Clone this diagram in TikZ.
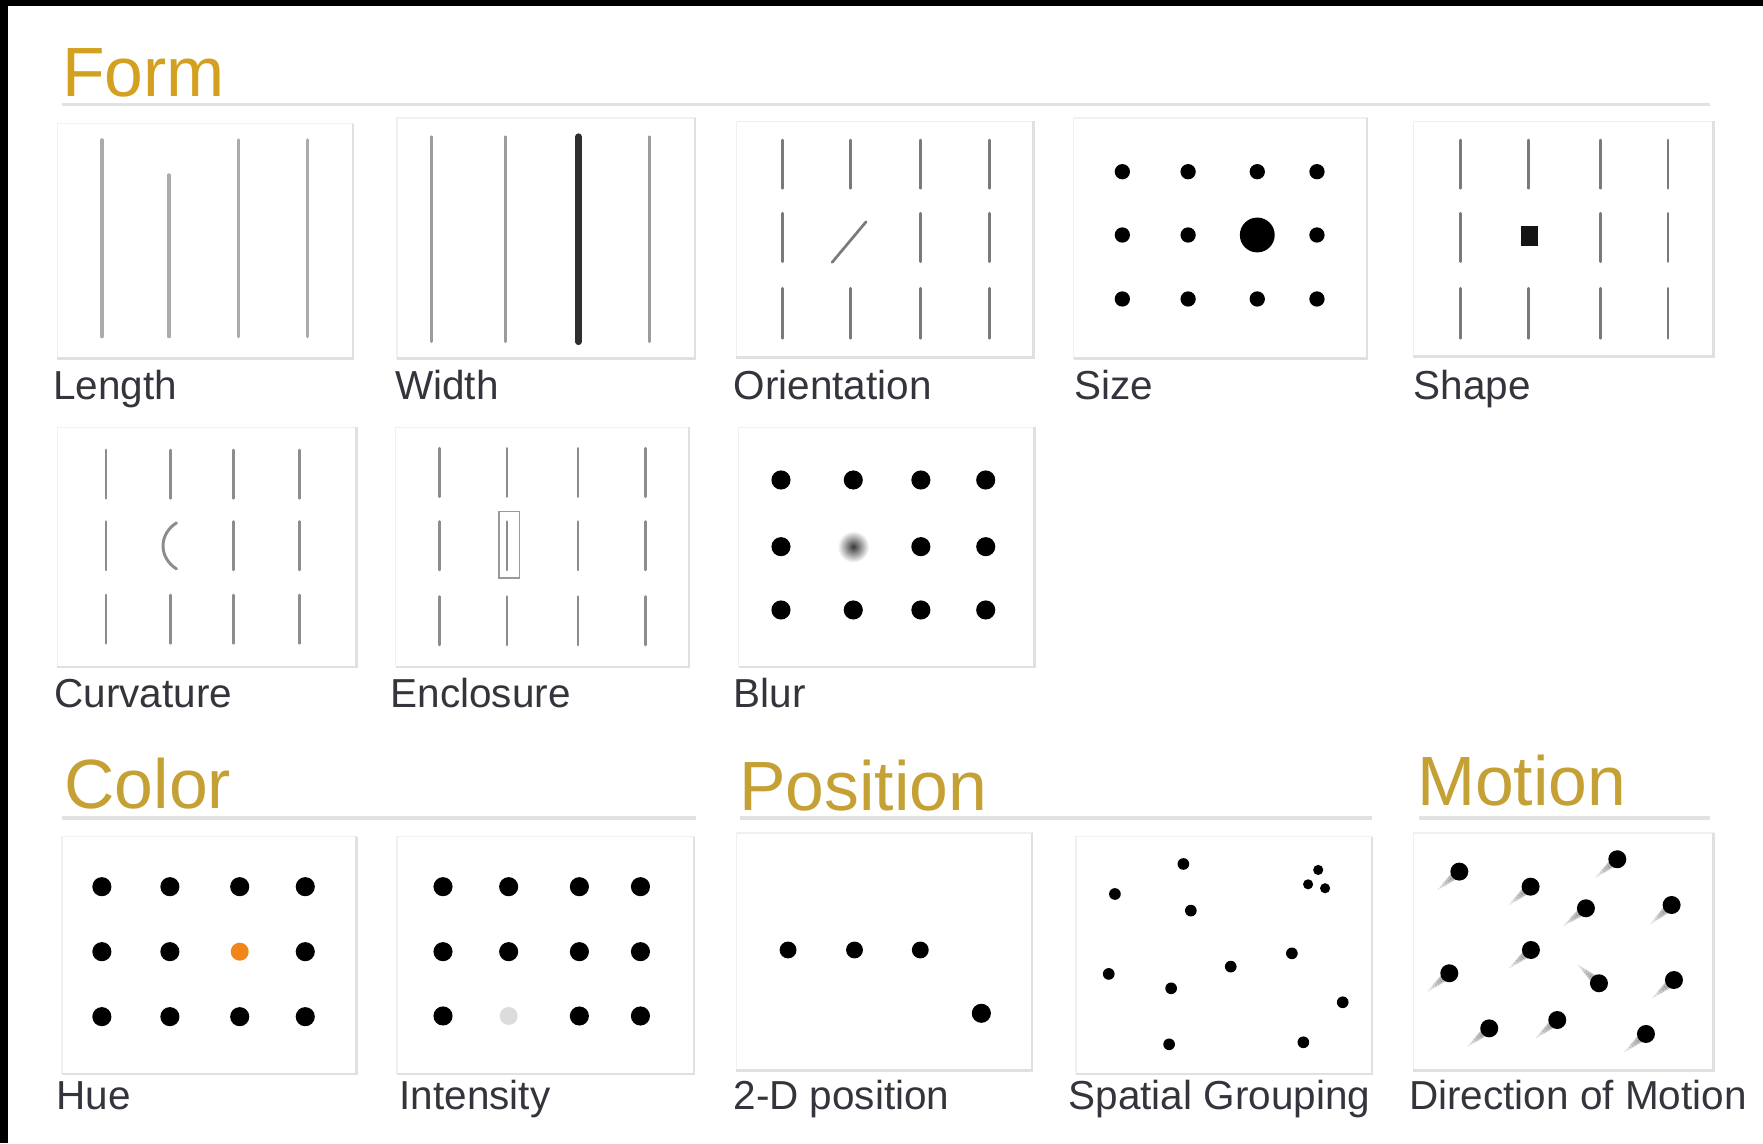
\documentclass[tikz,border=0pt]{standalone}
\usepackage{fontspec}
\setmainfont{Liberation Sans}
\definecolor{goldA}{HTML}{D4A020}
\definecolor{goldB}{HTML}{C4A035}
\definecolor{labgray}{HTML}{34343C}
\definecolor{rulegray}{HTML}{E2E2E2}
\definecolor{boxlight}{HTML}{F0F0F0}
\definecolor{boxdark}{HTML}{E0E0E0}
\definecolor{tickA}{HTML}{ABABAB}
\definecolor{tickB}{HTML}{9C9C9C}
\definecolor{tickC}{HTML}{7A7A7A}
\definecolor{tickD}{HTML}{8C8C8C}
\definecolor{hueorange}{HTML}{F0861A}
\definecolor{paledot}{HTML}{DCDCDC}
\tikzset{
  heading/.style={font=\fontsize{31}{31}\selectfont, inner sep=0pt, anchor=base west},
  lab/.style={font=\fontsize{18}{18}\selectfont, text=labgray, inner sep=0pt, anchor=base west},
  hrule/.style={draw=rulegray, line width=1.5pt},
  tickline/.style={line width=1.3pt, line cap=round},
  dotfill/.style={fill=black},
}
\newcommand\panelbox[4]{%
  \draw[boxlight, line width=0.6pt] (#1,#2) rectangle (#3,#4);
  \draw[boxdark, line width=1.1pt] (#1,#4) -- (#3,#4) -- (#3,#2);
}
\begin{document}
\begin{tikzpicture}[x=0.5pt, y=-0.5pt]
\useasboundingbox (0,0) rectangle (1568,1017);
\fill[white] (0,0) rectangle (1568,1017);
\fill[black] (0,0) rectangle (1568,5.3);
\fill[black] (0,0) rectangle (7.4,1017);

% ---------- headings and rules
\node[heading, text=goldA] (hForm) at (55,86) {Form};
\draw[hrule] (55,93) -- (1521,93);
\node[heading, text=goldB] (hColor) at (57,719) {Color};
\draw[hrule] (55,727.5) -- (619,727.5);
\node[heading, text=goldB] (hPosition) at (657,721) {Position};
\draw[hrule] (658,727.5) -- (1220,727.5);
\node[heading, text=goldB] (hMotion) at (1260,716) {Motion};
\draw[hrule] (1262,727.5) -- (1521,727.5);

% ---------- panels
\panelbox{51}{110}{314}{319}
\panelbox{353}{105}{618}{319}
\panelbox{655}{108}{919}{318}
\panelbox{955}{105}{1216}{319}
\panelbox{1257}{108}{1524}{317}
\panelbox{51}{380}{317}{593}
\panelbox{352}{380}{613}{593}
\panelbox{657}{380}{920}{593}
\panelbox{55}{744}{317}{955}
\panelbox{353}{744}{617}{955}
\panelbox{655}{741}{918}{952}
\panelbox{957}{744}{1220}{955}
\panelbox{1257}{741}{1524}{952}

% ---------- labels
\node[lab] (lLength) at (47,355) {Length};
\node[lab] (lWidth) at (351,355) {Width};
\node[lab] (lOrient) at (652,355) {Orientation};
\node[lab] (lSize) at (955,355) {Size};
\node[lab] (lShape) at (1257,355) {Shape};
\node[lab] (lCurv) at (48,629) {Curvature};
\node[lab] (lEncl) at (347,629) {Enclosure};
\node[lab] (lBlur) at (652,629) {Blur};
\node[lab] (lHue) at (50,987) {Hue};
\node[lab] (lInt) at (355,987) {Intensity};
\node[lab] (lPos) at (652,987) {2-D position};
\node[lab] (lGroup) at (950,987) {Spatial Grouping};
\node[lab] (lMotion) at (1253,987) {Direction of Motion};

% ---------- Length
\draw[tickline, tickA, line width=1.5pt] (90.6,124.5) -- (90.6,299.4);
\draw[tickline, tickA, line width=1.5pt] (150.3,155.6) -- (150.3,299.4);
\draw[tickline, tickA, line width=1.5pt] (212.3,124.5) -- (212.3,299.4);
\draw[tickline, tickA, line width=1.5pt] (273.6,124.5) -- (273.6,299.4);

% ---------- Width
\draw[tickline, tickB] (383.8,121.6) -- (383.8,303.9);
\draw[tickline, tickB] (449.2,121.6) -- (449.2,303.9);
\draw[tickline, draw={black!82}, line width=3pt] (514.5,121.6) -- (514.5,303.9);
\draw[tickline, tickB] (577.8,121.6) -- (577.8,303.9);

% ---------- Orientation
\foreach \x in {696.1,756.4,818.5,880.0}{
  \draw[tickline, tickC, line width=1.2pt] (\x,124.5) -- (\x,167.5);
  \draw[tickline, tickC, line width=1.2pt] (\x,256.4) -- (\x,300.9);
}
\foreach \x in {696.1,818.5,880.0}{
  \draw[tickline, tickC, line width=1.2pt] (\x,189.7) -- (\x,232.7);
}
\draw[tickline, tickC, line width=1.2pt] (740.1,233.3) -- (770.3,197.2);

% ---------- Size
\foreach \x in {998.2,1056.7,1118.2,1171.3}{
  \fill[dotfill] (\x,152.7) circle (6.8);
  \fill[dotfill] (\x,265.9) circle (6.8);
}
\foreach \x in {998.2,1056.7,1171.3}{
  \fill[dotfill] (\x,209.0) circle (6.8);
}
\fill[dotfill] (1118.2,209.0) circle (15.5);

% ---------- Shape
\foreach \x in {1299.1,1359.4,1423.3,1483.5}{
  \draw[tickline, tickC, line width=1.2pt] (\x,124.5) -- (\x,167.5);
  \draw[tickline, tickC, line width=1.2pt] (\x,256.4) -- (\x,300.9);
}
\foreach \x in {1299.1,1423.3,1483.5}{
  \draw[tickline, tickC, line width=1.2pt] (\x,189.7) -- (\x,232.7);
}
\fill[black!92] (1353,201) rectangle (1368,219);

% ---------- Curvature
\foreach \x in {94.4,151.5,207.5,266.4}{
  \draw[tickline, tickD, line width=1.2pt] (\x,400.2) -- (\x,443.2);
  \draw[tickline, tickD, line width=1.2pt] (\x,529.2) -- (\x,572.2);
}
\foreach \x in {94.4,207.5,266.4}{
  \draw[tickline, tickD, line width=1.2pt] (\x,463.9) -- (\x,506.9);
}
\draw[tickline, tickD, line width=1.3pt] (157,465) .. controls (141,475) and (141,496) .. (157,506);

% ---------- Enclosure
\foreach \x in {390.9,451.0,514.1,574.3}{
  \draw[tickline, tickD, line width=1.2pt] (\x,398.7) -- (\x,441.7);
  \draw[tickline, tickD, line width=1.2pt] (\x,463.9) -- (\x,506.9);
  \draw[tickline, tickD, line width=1.2pt] (\x,530.6) -- (\x,573.6);
}
\draw[black!40, line width=0.8pt] (444,455) rectangle (462,514);

% ---------- Blur
\foreach \x in {694.6,758.9,819.0,876.7}{
  \fill[dotfill] (\x,426.9) circle (8.5);
  \fill[dotfill] (\x,542.5) circle (8.5);
}
\foreach \x in {694.6,819.0,876.7}{
  \fill[dotfill] (\x,486.2) circle (8.5);
}
\shade[inner color=black!78, outer color=white] (758.9,486.2) circle (14);

% ---------- Hue
\foreach \x in {90.6,151.1,213.2,271.5}{
  \fill[dotfill] (\x,788.6) circle (8.5);
  \fill[dotfill] (\x,904.2) circle (8.5);
}
\foreach \x in {90.6,151.1,271.5}{
  \fill[dotfill] (\x,846.4) circle (8.5);
}
\fill[hueorange] (213.2,846.4) circle (8);

% ---------- Intensity
\foreach \x in {394.0,452.4,515.3,569.6}{
  \fill[dotfill] (\x,788.6) circle (8.5);
  \fill[dotfill] (\x,846.4) circle (8.5);
}
\foreach \x in {394.0,515.3,569.6}{
  \fill[dotfill] (\x,903.6) circle (8.5);
}
\fill[paledot] (452.4,903.6) circle (8);

% ---------- 2-D position
\foreach \x/\y in {700.9/844.9, 760.0/844.9, 818.5/844.9}{
  \fill[dotfill] (\x,\y) circle (7.5);
}
\fill[dotfill] (872.8,901.2) circle (8.5);

% ---------- Spatial grouping
\foreach \x/\y in {1052.5/768.4, 991.6/795.1, 1059.1/809.9, 1149.0/847.9,
                   1094.6/859.7, 986.1/866.2, 1041.6/879.0, 1194.2/891.4,
                   1039.8/928.8, 1159.2/927.0}{
  \fill[dotfill] (\x,\y) circle (5.2);
}
\foreach \x/\y in {1172.4/773.7, 1163.4/786.5, 1178.5/790.0}{
  \fill[dotfill] (\x,\y) circle (4.5);
}

% ---------- Direction of motion
\foreach \px/\py/\ang in {1297.9/775.2/140, 1361.3/788.6/140, 1438.4/764.2/140,
                          1410.5/807.8/142, 1486.7/804.9/138, 1361.6/844.9/140,
                          1289.0/865.6/140, 1422.1/874.5/221, 1488.8/871.6/140,
                          1324.5/914.6/140, 1385.0/907.2/140, 1463.9/919.6/140}{
  \foreach \k in {1,...,10}{
    \fill[black, opacity=0.14] ([shift={({\ang}:{2.4*\k})}]\px,\py) circle ({4.8-0.4*\k});
  }
  \fill[dotfill] (\px,\py) circle (8);
}
\end{tikzpicture}
\end{document}
